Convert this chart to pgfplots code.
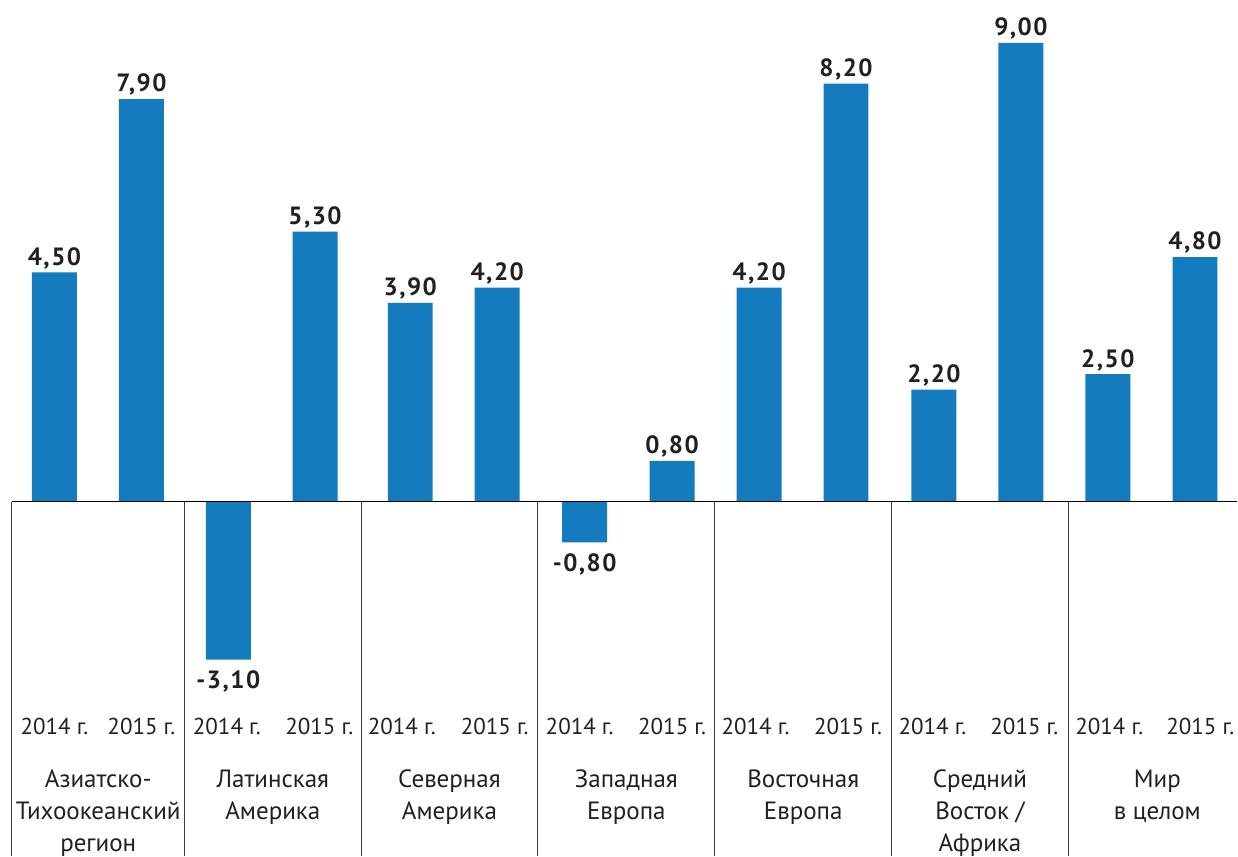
\documentclass[border=0pt]{standalone}
\usepackage{fontspec}
\setmainfont{PT Sans}
\newfontfamily\lblfont[LetterSpace=6]{PT Sans}
\usepackage{pgfplots}
\pgfplotsset{compat=1.18}
\definecolor{barblue}{RGB}{20,123,190}
\definecolor{labtext}{RGB}{35,31,32}
\definecolor{sepline}{RGB}{60,60,60}
\definecolor{baseline}{RGB}{130,130,130}
\begin{document}
\begin{tikzpicture}
\begin{axis}[
  scale only axis, width=619pt, height=428.5pt,
  xmin=0, xmax=1238, ymin=-6.961, ymax=9.843,
  hide axis, clip=false,
  ybar, bar width=45, bar shift=0pt,
  nodes near coords, point meta=y,
  nodes near coords align=vertical,
  visualization depends on={y \as \rawy},
  every node near coord/.append style={font=\lblfont\bfseries\fontsize{12.5}{14}\selectfont, text=labtext, inner sep=1.5pt,
    yshift={(\rawy<0 ? -4 : 0)},
    /pgf/number format/.cd, fixed, fixed zerofill, precision=2, use comma, assume math mode=true},
]
\path (rel axis cs:0,0) rectangle (rel axis cs:1,1);
% 2014
\addplot[fill=barblue, draw=none] coordinates {(54.5,4.5) (228.5,-3.1) (410.5,3.9) (585,-0.8) (759.5,4.2) (934.5,2.2) (1108.5,2.5)};
% 2015
\addplot[fill=barblue, draw=none] coordinates {(141.5,7.9) (315.2,5.3) (497.5,4.2) (672.5,0.8) (846.5,8.2) (1021.5,9.0) (1195.7,4.8)};
% baseline and separators
\draw[baseline, line width=0.75pt] (axis cs:12,0) -- (axis cs:1238,0);
\pgfplotsinvokeforeach{12,184.7,361.3,538,715.3,892,1069}{
  \draw[sepline, line width=0.5pt] (axis cs:#1,0) -- (axis cs:#1,-6.961);
}
% year labels
\tikzset{yr/.style={anchor=base, inner sep=0pt, text=labtext, font=\fontsize{11.5}{13}\selectfont}}
\pgfplotsinvokeforeach{54.5,227,402,580,756,933,1110}{
  \node[yr] at (axis cs:#1,-4.569) {2014 г.};
}
\pgfplotsinvokeforeach{141.5,319.5,495,672.5,848.5,1025,1201}{
  \node[yr] at (axis cs:#1,-4.569) {2015 г.};
}
% group labels
\tikzset{grp/.style={anchor=base, inner sep=0pt, text=labtext, font=\fontsize{12.5}{15}\selectfont}}
\node[grp] at (axis cs:98.3,-5.608) {Азиатско-};
\node[grp] at (axis cs:98.3,-6.235) {Тихоокеанский};
\node[grp] at (axis cs:98.3,-6.863) {регион};
\node[grp] at (axis cs:273,-5.608) {Латинская};
\node[grp] at (axis cs:273,-6.235) {Америка};
\node[grp] at (axis cs:449.7,-5.608) {Северная};
\node[grp] at (axis cs:449.7,-6.235) {Америка};
\node[grp] at (axis cs:626.7,-5.608) {Западная};
\node[grp] at (axis cs:626.7,-6.235) {Европа};
\node[grp] at (axis cs:803.7,-5.608) {Восточная};
\node[grp] at (axis cs:803.7,-6.235) {Европа};
\node[grp] at (axis cs:980.5,-5.608) {Средний};
\node[grp] at (axis cs:980.5,-6.235) {Восток /};
\node[grp] at (axis cs:980.5,-6.863) {Африка};
\node[grp] at (axis cs:1158,-5.608) {Мир};
\node[grp] at (axis cs:1158,-6.235) {в целом};
\end{axis}
\end{tikzpicture}
\end{document}
